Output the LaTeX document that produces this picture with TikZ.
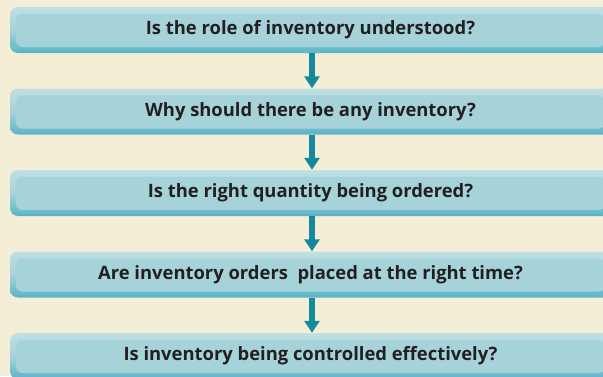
\documentclass[tikz,border=0pt]{standalone}
\usepackage{fontspec}
\setmainfont{Open Sans}
\usetikzlibrary{arrows.meta}
\definecolor{bg}{HTML}{F4EED6}
\definecolor{boxlight}{HTML}{BFE0E3}
\definecolor{boxmid}{HTML}{A6D2DA}
\definecolor{boxdark}{HTML}{5AB4C7}
\definecolor{arrowcol}{HTML}{14899D}
\definecolor{txt}{HTML}{231F20}
\tikzset{
  qbox/.style={rounded corners=8pt, minimum width=601pt, minimum height=46pt,
    inner sep=0pt, top color=boxlight, bottom color=boxdark, middle color=boxmid},
  qtext/.style={font=\fontsize{18.4}{21}\selectfont\bfseries, text=txt, inner sep=0pt},
  panel/.style={fill=boxmid, rounded corners=7pt},
  flow/.style={draw=arrowcol, line width=6.5pt, -{Triangle[width=15pt,length=12pt]}}
}
\begin{document}
\begin{tikzpicture}[x=1pt,y=-1pt]
\useasboundingbox (0,0) rectangle (603,376);
\fill[bg] (0,0) rectangle (603,376);
\begin{scope}
\clip (0,0) rectangle (603,376);
\foreach \i/\y in {1/30, 2/111.5, 3/193, 4/274.5, 5/356}{
  \node[qbox] (b\i) at (310.5,\y) {};
  \fill[panel] ([xshift=6pt,yshift=-7pt]b\i.north west) rectangle ([xshift=-6pt,yshift=6pt]b\i.south east);
}
\node[qtext] (t1) at (b1) {Is the role of inventory understood?};
\node[qtext] (t2) at (b2) {Why should there be any inventory?};
\node[qtext] (t3) at (b3) {Is the right quantity being ordered?};
\node[qtext] (t4) at (b4) {Are inventory orders\ \ placed at the right time?};
\node[qtext] (t5) at (b5) {Is inventory being controlled effectively?};
\foreach \a/\b in {1/2,2/3,3/4,4/5}{
  \draw[flow] (b\a.south -| 312,0) -- (b\b.north -| 312,0);
}
\end{scope}
\end{tikzpicture}
\end{document}
